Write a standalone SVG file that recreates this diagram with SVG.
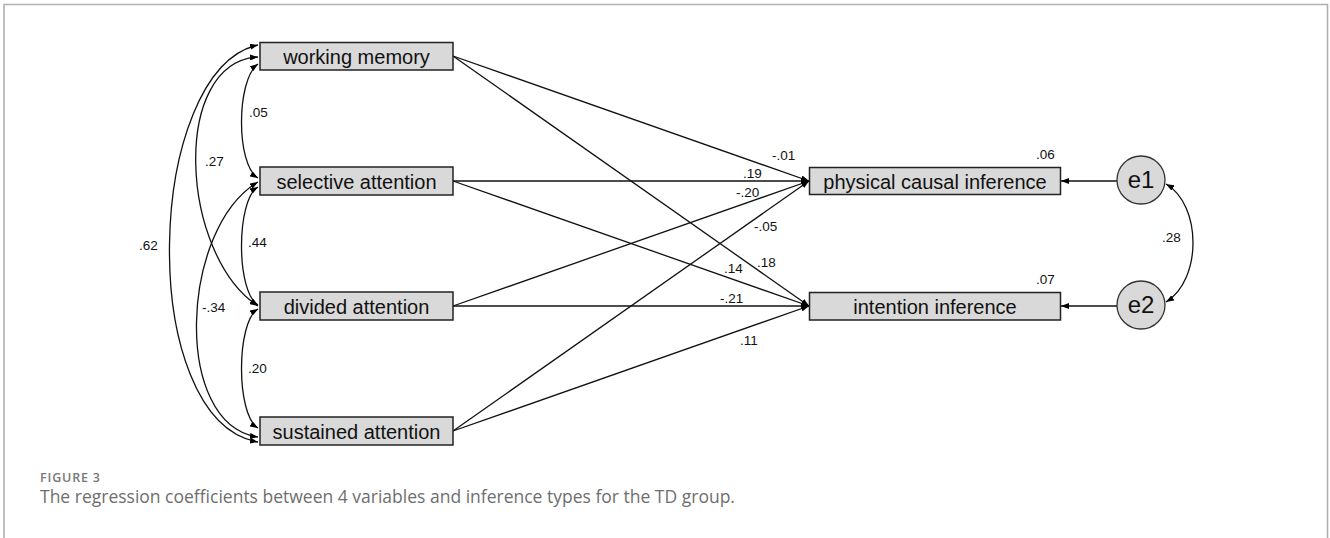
<svg xmlns="http://www.w3.org/2000/svg" width="1330" height="538" viewBox="0 0 1330 538">
<style>
.box{fill:#d9d9d9;stroke:#222;stroke-width:1.5}
.lbl{font-family:"Liberation Sans",Arial,sans-serif;font-size:20px;fill:#111;text-anchor:middle}
.num{font-family:"Liberation Sans",Arial,sans-serif;font-size:13.5px;fill:#111}
.c{fill:none;stroke:#111;stroke-width:1.3}
.frame{fill:none;stroke:#b0b0b0;stroke-width:1.6}
</style>
<defs>
<marker id="ah" viewBox="0 0 8 6" refX="8" refY="3" markerWidth="8" markerHeight="6" markerUnits="userSpaceOnUse" orient="auto-start-reverse"><path d="M0,0 L8,3 L0,6 z" fill="#000"/></marker>
</defs>
<rect width="1330" height="538" fill="#fff"/>
<path class="frame" d="M4,538 V4.5 H1327.5 V538"/>

<g id="connectors">
<g class="c" marker-end="url(#ah)">
<path d="M453,56 L809,181"/>
<path d="M453,56 L809,306"/>
<path d="M453,181 L809,181"/>
<path d="M453,181 L809,306"/>
<path d="M453,306 L809,181"/>
<path d="M453,306 L809,306"/>
<path d="M453,431 L809,181"/>
<path d="M453,431 L809,306"/>
<path d="M1117,181 L1061,181"/>
<path d="M1117,306 L1061,306"/>
</g>
<g class="c" marker-start="url(#ah)" marker-end="url(#ah)">
<path d="M258,45 C145,70 135,420 258,442"/>
<path d="M258,57 C170,62 180,255 258,306"/>
<path d="M258,64 C236,80 236,165 258,178"/>
<path d="M258,187 C236,200 236,292 258,305"/>
<path d="M258,182 C180,228 172,425 258,437"/>
<path d="M258,309 C236,322 236,415 258,428"/>
<path d="M1166,184 C1202,205 1202,280 1166,302"/>
</g>
<g class="num">
<text x="249" y="117">.05</text>
<text x="205" y="166">.27</text>
<text x="139" y="250">.62</text>
<text x="248" y="247">.44</text>
<text x="202" y="312">-.34</text>
<text x="248" y="373">.20</text>
<text x="772" y="160">-.01</text>
<text x="743" y="178">.19</text>
<text x="736" y="197">-.20</text>
<text x="754" y="231">-.05</text>
<text x="757" y="267">.18</text>
<text x="724" y="273">.14</text>
<text x="720" y="303">-.21</text>
<text x="740" y="345">.11</text>
<text x="1036" y="159">.06</text>
<text x="1036" y="284">.07</text>
<text x="1162" y="242">.28</text>
</g>
</g>

<g id="working-memory"><rect class="box" x="260" y="42.5" width="193" height="27.5"/><text class="lbl" x="356.5" y="63.5">working memory</text></g>
<g id="selective-attention"><rect class="box" x="260" y="167" width="193" height="28"/><text class="lbl" x="356.5" y="188.5">selective attention</text></g>
<g id="divided-attention"><rect class="box" x="260" y="292" width="193" height="28"/><text class="lbl" x="356.5" y="313.5">divided attention</text></g>
<g id="sustained-attention"><rect class="box" x="260" y="417" width="193" height="28"/><text class="lbl" x="356.5" y="438.5">sustained attention</text></g>
<g id="physical-causal-inference"><rect class="box" x="809.5" y="167.5" width="251" height="27"/><text class="lbl" x="935" y="188.5">physical causal inference</text></g>
<g id="intention-inference"><rect class="box" x="809.5" y="292.5" width="251" height="27.5"/><text class="lbl" x="935" y="313.5">intention inference</text></g>
<g id="e1"><circle cx="1141" cy="180" r="24" fill="#d9d9d9" stroke="#333" stroke-width="1.3"/><text class="lbl" x="1141" y="188" style="font-size:24px">e1</text></g>
<g id="e2"><circle cx="1141" cy="305" r="24" fill="#d9d9d9" stroke="#333" stroke-width="1.3"/><text class="lbl" x="1141" y="313" style="font-size:24px">e2</text></g>

<g id="caption">
<text x="40" y="482" font-family="'Open Sans',sans-serif" font-size="12.5" font-weight="600" fill="#777" textLength="60" lengthAdjust="spacing">FIGURE 3</text>
<text x="40" y="503" font-family="'Open Sans',sans-serif" font-size="17.5" fill="#6e6e6e">The regression coefficients between 4 variables and inference types for the TD group.</text>
</g>
</svg>
